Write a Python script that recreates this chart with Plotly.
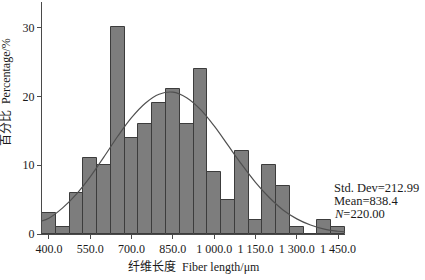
import plotly.graph_objects as go

# Histogram bins (centres, µm) and counts
bin_centers = [400, 450, 500, 550, 600, 650, 700, 750, 800, 850, 900, 950,
               1000, 1050, 1100, 1150, 1200, 1250, 1300, 1350, 1400, 1450]
counts = [3, 1, 6, 11, 10, 30, 14, 16, 19, 21, 16, 24,
          9, 5, 12, 2, 10, 7, 1, 0, 2, 1]
bin_width = 50

# Fitted normal curve
curve_x = [375, 400, 450, 500, 550, 600, 650, 700, 750, 800, 850, 900, 950,
           1000, 1050, 1100, 1150, 1200, 1250, 1300, 1350, 1400, 1450, 1475]
curve_y = [1.9, 2.3, 3.8, 5.8, 8.3, 11.2, 14.2, 16.9, 19.0, 20.3, 20.6, 19.8, 18.1,
           15.7, 12.9, 10.1, 7.5, 5.3, 3.5, 2.2, 1.3, 0.7, 0.4, 0.3]

x_tickvals = [400, 550, 700, 850, 1000, 1150, 1300, 1450]
x_ticktext = ["400.0", "550.0", "700.0", "850.0", "1 000.0", "1 150.0", "1 300.0", "1 450.0"]
y_tickvals = [0, 10, 20, 30]

stats_lines = ["Std. Dev=212.99", "Mean=838.4", "<i>N</i>=220.00"]

FONT = "Liberation Serif, Times New Roman, serif"
CJK_FONT = "Liberation Serif, Noto Sans CJK SC, serif"
AX = "#4a4a4a"
TXT = "#1a1a1a"

fig = go.Figure()
fig.add_trace(go.Bar(
    x=bin_centers, y=counts, width=[bin_width] * len(bin_centers),
    marker=dict(color="#7d7d7d", line=dict(color="#3c3c3c", width=1)),
    showlegend=False,
))
fig.add_trace(go.Scatter(
    x=curve_x, y=curve_y, mode="lines", line=dict(color="#505050", width=1.2, shape="spline"),
    showlegend=False,
))

fig.update_layout(
    width=425, height=280,
    margin=dict(l=42, r=80, t=2, b=46),
    paper_bgcolor="white", plot_bgcolor="white",
    font=dict(family=FONT, size=12, color=TXT),
    bargap=0,
    xaxis=dict(range=[375, 1475], tickvals=x_tickvals, ticktext=x_ticktext,
               showgrid=False, zeroline=False, showline=True, linecolor=AX, linewidth=1,
               ticks="outside", ticklen=4, tickcolor=AX,
               tickfont=dict(family=FONT, size=12, color=TXT)),
    yaxis=dict(range=[0, 33.7], tickvals=y_tickvals,
               showgrid=False, zeroline=False, showline=True, linecolor=AX, linewidth=1,
               ticks="outside", ticklen=4, tickcolor=AX,
               tickfont=dict(family=FONT, size=12, color=TXT)),
)

plot_h = 231.7
fig.add_annotation(text="纤维长度  Fiber length/μm", xref="paper", yref="paper",
                   x=0.5, y=-(266.5 - 233.7) / plot_h, xanchor="center", yanchor="middle",
                   showarrow=False, font=dict(family=CJK_FONT, size=12, color=TXT))
fig.add_annotation(text="百分比  Percentage/%", xref="paper", yref="paper",
                   x=(6 - 42) / 303, y=(233.7 - 92) / plot_h, xanchor="center", yanchor="middle",
                   showarrow=False, textangle=-90,
                   font=dict(family=CJK_FONT, size=12, color=TXT))

for i, line in enumerate(stats_lines):
    ypx = 188 + 13 * i
    fig.add_annotation(text=line, xref="paper", yref="paper",
                       x=(332 - 42) / 303, y=(233.7 - ypx) / plot_h,
                       xanchor="left", yanchor="middle", showarrow=False,
                       font=dict(family=FONT, size=12.5, color=TXT))

fig.write_html("out.html", config={"displayModeBar": False},
               post_script="document.body.style.margin='0';document.body.style.overflow='hidden';")
